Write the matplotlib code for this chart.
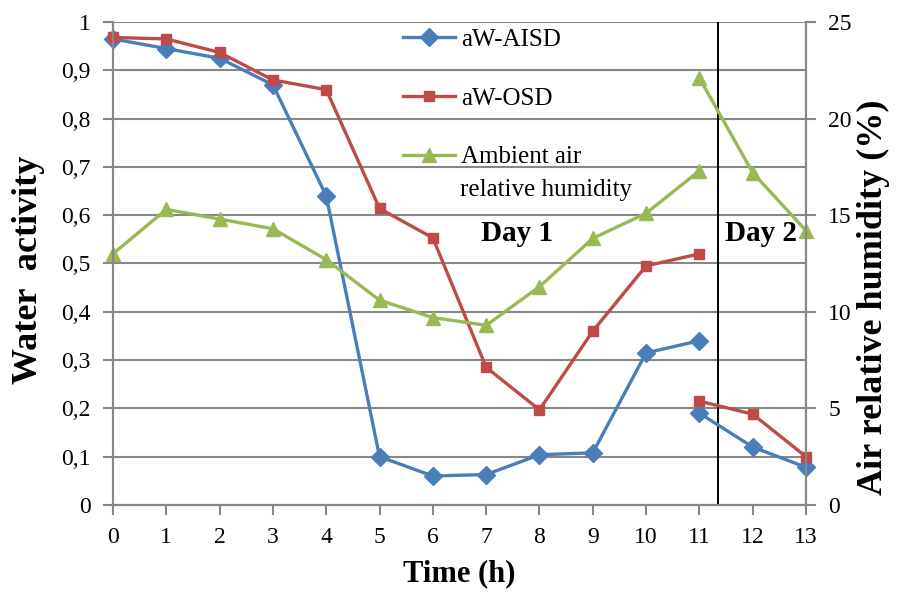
import matplotlib
matplotlib.use("Agg")
import matplotlib.pyplot as plt
from matplotlib.ticker import FuncFormatter, MultipleLocator

plt.rcParams['font.family'] = ['Liberation Serif', 'DejaVu Serif']

# time axis (h)
hours_day1 = [0, 1, 2, 3, 4, 5, 6, 7, 8, 9, 10, 11]
hours_day2 = [11, 12, 13]

# water activity
aisd_day1 = [0.965, 0.945, 0.925, 0.870, 0.640, 0.100, 0.060, 0.063, 0.104, 0.108, 0.315, 0.340]
aisd_day2 = [0.190, 0.120, 0.078]
osd_day1 = [0.968, 0.965, 0.937, 0.880, 0.860, 0.614, 0.553, 0.285, 0.197, 0.360, 0.495, 0.520]
osd_day2 = [0.215, 0.188, 0.100]

# ambient air relative humidity (%)
rh_day1 = [13.0, 15.3, 14.8, 14.3, 12.7, 10.6, 9.7, 9.3, 11.3, 13.8, 15.1, 17.3]
rh_day2 = [22.1, 17.2, 14.2]

day_split = 11.34

blue = '#4A7EBB'
red = '#BE4B48'
green = '#98B954'
grey = '#878787'

fig = plt.figure(figsize=(8.98, 5.92), dpi=100)
ax = fig.add_axes([0.1258, 0.147, 0.7718, 0.8158])
ax2 = ax.twinx()

lw = 2.4
l1, = ax.plot(hours_day1, aisd_day1, color=blue, lw=lw, marker='D', ms=9, clip_on=False, zorder=3)
ax.plot(hours_day2, aisd_day2, color=blue, lw=lw, marker='D', ms=9, clip_on=False, zorder=3)
l2, = ax.plot(hours_day1, osd_day1, color=red, lw=lw, marker='s', ms=7.5, clip_on=False, zorder=4)
ax.plot(hours_day2, osd_day2, color=red, lw=lw, marker='s', ms=7.5, clip_on=False, zorder=4)
l3, = ax2.plot(hours_day1, rh_day1, color=green, lw=lw, marker='^', ms=10, clip_on=False)
ax2.plot(hours_day2, rh_day2, color=green, lw=lw, marker='^', ms=10, clip_on=False)

ax.axvline(day_split, color='black', lw=1.4, zorder=2)

ax.set_xlim(0, 13)
ax.set_ylim(0, 1)
ax2.set_ylim(0, 25)
ax.xaxis.set_major_locator(MultipleLocator(1))
ax.yaxis.set_major_locator(MultipleLocator(0.1))
ax2.yaxis.set_major_locator(MultipleLocator(5))
ax.yaxis.set_major_formatter(FuncFormatter(lambda v, p: ('%g' % round(v, 1)).replace('.', ',')))

ax.grid(axis='y', color=grey, lw=1.5)
ax.set_axisbelow(True)
for a in (ax, ax2):
    for s in a.spines.values():
        s.set_color(grey)
        s.set_linewidth(1.5)
    a.spines['top'].set_visible(False)
    a.tick_params(direction='out', length=7, width=1.5, color=grey, labelsize=17, pad=9)

ax.set_xlabel('Time (h)', fontsize=22, fontweight='bold')
ax.set_ylabel('Water  activity', fontsize=26, fontweight='bold')
ax2.set_ylabel('Air relative humidity (%)', fontsize=26, fontweight='bold')
ax.xaxis.set_label_coords(0.5, -0.112)
ax.yaxis.set_label_coords(-0.098, 0.487)
ax2.yaxis.set_label_coords(1.074, 0.43)

ax.text(7.58, 0.563, 'Day 1', fontsize=21, fontweight='bold', ha='center', va='center')
ax.text(12.16, 0.563, 'Day 2', fontsize=21, fontweight='bold', ha='center', va='center')

leg = ax.legend([l1, l2, l3], ['aW-AISD', 'aW-OSD', 'Ambient air'],
                loc='upper left', bbox_to_anchor=(0.411, 0.997), frameon=False,
                fontsize=18, handlelength=2.1, handletextpad=0.22, labelspacing=1.45,
                borderpad=0.2, borderaxespad=0)
ax.text(0.501, 0.652, 'relative humidity', transform=ax.transAxes, fontsize=18,
        ha='left', va='center')

fig.savefig('out.png', dpi=100)
